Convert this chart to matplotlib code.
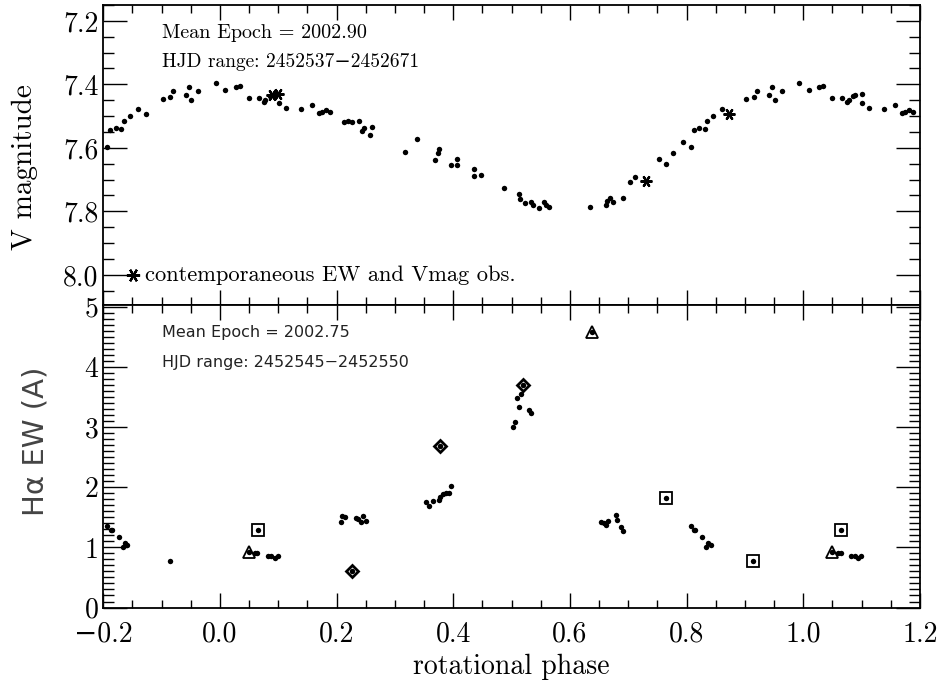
import matplotlib
matplotlib.use("Agg")
import matplotlib.pyplot as plt
from matplotlib.ticker import MultipleLocator, FuncFormatter

# V photometry, phase folded on [0, 1)
v_phase = [0.009, 0.027, 0.034, 0.050, 0.067, 0.075, 0.078, 0.086, 0.089, 0.100,
           0.101, 0.113, 0.139, 0.158, 0.170, 0.175, 0.182, 0.188, 0.213, 0.219,
           0.227, 0.238, 0.244, 0.247, 0.258, 0.260, 0.318, 0.337, 0.369, 0.373,
           0.376, 0.396, 0.406, 0.407, 0.435, 0.436, 0.447, 0.487, 0.512, 0.514,
           0.523, 0.534, 0.536, 0.547, 0.556, 0.559, 0.564, 0.634, 0.662, 0.663,
           0.668, 0.673, 0.691, 0.703, 0.711, 0.731, 0.753, 0.765, 0.776, 0.793,
           0.807, 0.812, 0.821, 0.831, 0.835, 0.846, 0.860, 0.873, 0.902, 0.915,
           0.920, 0.941, 0.947, 0.951, 0.963, 0.993]
v_mag = [7.418, 7.408, 7.405, 7.444, 7.444, 7.455, 7.448, 7.436, 7.432, 7.431,
         7.458, 7.475, 7.477, 7.464, 7.489, 7.488, 7.481, 7.486, 7.518, 7.514,
         7.520, 7.515, 7.546, 7.537, 7.558, 7.535, 7.612, 7.571, 7.639, 7.615,
         7.605, 7.655, 7.635, 7.653, 7.667, 7.689, 7.687, 7.726, 7.744, 7.760,
         7.775, 7.772, 7.780, 7.788, 7.772, 7.781, 7.786, 7.787, 7.781, 7.768,
         7.759, 7.769, 7.757, 7.709, 7.693, 7.704, 7.635, 7.650, 7.616, 7.583,
         7.598, 7.545, 7.537, 7.540, 7.514, 7.500, 7.476, 7.492, 7.446, 7.441,
         7.422, 7.433, 7.407, 7.449, 7.422, 7.397]

# contemporaneous EW and Vmag observations
star_phase = [0.089, 0.100, 0.731, 0.873]
star_mag = [7.432, 7.431, 7.704, 7.492]

# H-alpha equivalent widths
ew_phase = [0.050, 0.060, 0.064, 0.065, 0.082, 0.088, 0.094, 0.099,
            0.207, 0.210, 0.214, 0.226, 0.233, 0.237, 0.242, 0.246, 0.250,
            0.354, 0.359, 0.365, 0.376, 0.377, 0.378, 0.383, 0.387, 0.393, 0.396,
            0.502, 0.505, 0.509, 0.513, 0.516, 0.519, 0.529, 0.533, 0.637,
            0.653, 0.659, 0.662, 0.666, 0.679, 0.681, 0.687, 0.691, 0.764,
            0.807, 0.813, 0.815, 0.827, 0.834, 0.837, 0.841, 0.914]
ew_val = [0.917, 0.906, 0.911, 1.289, 0.850, 0.850, 0.817, 0.861,
          1.428, 1.517, 1.511, 0.611, 1.489, 1.472, 1.417, 1.528, 1.444,
          1.761, 1.683, 1.778, 1.794, 2.694, 1.833, 1.889, 1.900, 1.900, 2.017,
          3.000, 3.078, 3.483, 3.333, 3.544, 3.694, 3.278, 3.239, 4.583,
          1.422, 1.400, 1.378, 1.444, 1.544, 1.461, 1.333, 1.278, 1.828,
          1.350, 1.289, 1.289, 1.172, 1.011, 1.067, 1.044, 0.778]

sq_phase = [0.065, 0.764, 0.914]
sq_val = [1.289, 1.828, 0.778]
dia_phase = [0.226, 0.377, 0.519]
dia_val = [0.611, 2.694, 3.694]
tri_phase = [0.050, 0.637]
tri_val = [0.917, 4.583]

x_ticks = [-0.2, 0.0, 0.2, 0.4, 0.6, 0.8, 1.0, 1.2]

SERIF = ["cmr10", "DejaVu Serif"]
SANS = ["DejaVu Sans"]


def wrap(phase, values, shifts, lo=-0.2, hi=1.2):
    xs, ys = [], []
    for s in shifts:
        for p, v in zip(phase, values):
            if lo <= p + s <= hi:
                xs.append(p + s)
                ys.append(v)
    return xs, ys


def style_axis(ax, ymajor, yminor):
    ax.xaxis.set_major_locator(MultipleLocator(0.2))
    ax.xaxis.set_minor_locator(MultipleLocator(0.05))
    ax.yaxis.set_major_locator(MultipleLocator(ymajor))
    ax.yaxis.set_minor_locator(MultipleLocator(yminor))
    ax.tick_params(which="both", direction="in", top=True, right=True, width=1.0)
    ax.tick_params(axis="y", which="major", length=17)
    ax.tick_params(axis="y", which="minor", length=8)
    ax.tick_params(axis="x", which="major", length=11)
    ax.tick_params(axis="x", which="minor", length=6)
    for sp in ax.spines.values():
        sp.set_linewidth(1.3)


def fmt(v, pos):
    return f"{v:.1f}".replace("-", "\u2212")


fig = plt.figure(figsize=(9.4, 6.85), dpi=100)
ax1 = fig.add_axes([0.1099, 0.5547, 0.8688, 0.4380])
ax2 = fig.add_axes([0.1099, 0.1131, 0.8688, 0.4416])

# top panel: V light curve
x, y = wrap(v_phase, v_mag, (-1, 0, 1))
ax1.plot(x, y, "o", color="black", ms=3.9, mew=0)
ax1.plot(star_phase, star_mag, ls="none", marker=(6, 2, 90), color="black",
         ms=8.5, mew=1.6)
ax1.plot([-0.149], [8.0], ls="none", marker=(6, 2, 90), color="black", ms=9.5, mew=1.6)
ax1.text(-0.129, 8.0, "contemporaneous EW and Vmag obs.", family=SERIF,
         fontsize=16.2, va="center", ha="left")
ax1.text(-0.1, 7.238, "Mean Epoch = 2002.90", family=SERIF, fontsize=14.5, va="center")
ax1.text(-0.1, 7.329, "HJD range: 2452537\u22122452671", family=SERIF, fontsize=14,
         va="center")
ax1.set_xlim(-0.2, 1.2)
ax1.set_ylim(8.095, 7.15)
style_axis(ax1, 0.2, 0.05)
ax1.set_xticks(x_ticks)
ax1.tick_params(axis="x", labelbottom=False)
ax1.set_yticks([7.2, 7.4, 7.6, 7.8, 8.0])
ax1.yaxis.set_major_formatter(FuncFormatter(fmt))
for lab in ax1.get_yticklabels():
    lab.set_family(SERIF)
    lab.set_fontsize(20)
ax1.set_ylabel("V magnitude", family=SERIF, fontsize=21)
ax1.yaxis.set_label_coords(-0.080, 0.46)

# bottom panel: H-alpha EW
ax2.plot(sq_phase + [p + 1 for p in sq_phase if p + 1 <= 1.2],
         sq_val + [v for p, v in zip(sq_phase, sq_val) if p + 1 <= 1.2],
         "s", mfc="none", mec="black", ms=8, mew=1.3)
ax2.plot(dia_phase + [p + 1 for p in dia_phase if p + 1 <= 1.2],
         dia_val + [v for p, v in zip(dia_phase, dia_val) if p + 1 <= 1.2],
         "D", mfc="none", mec="black", ms=6.5, mew=2.0)
ax2.plot(tri_phase + [p + 1 for p in tri_phase if p + 1 <= 1.2],
         tri_val + [v for p, v in zip(tri_phase, tri_val) if p + 1 <= 1.2],
         "^", mfc="none", mec="black", ms=8.5, mew=1.3)
x, y = wrap(ew_phase, ew_val, (-1, 0, 1))
ax2.plot(x, y, "o", color="black", ms=3.9, mew=0)
ax2.text(-0.1, 4.58, "Mean Epoch = 2002.75", family=SANS, fontsize=11.5,
         va="center", color="#222222")
ax2.text(-0.1, 4.08, "HJD range: 2452545\u22122452550", family=SANS, fontsize=11.5,
         va="center", color="#222222")
ax2.set_xlim(-0.2, 1.2)
ax2.set_ylim(0, 5.03)
style_axis(ax2, 1, 0.1)
ax2.set_xticks(x_ticks)
ax2.xaxis.set_major_formatter(FuncFormatter(fmt))
ax2.set_yticks([0, 1, 2, 3, 4, 5])
for lab in ax2.get_xticklabels():
    lab.set_family(SERIF)
    lab.set_fontsize(20)
for lab in ax2.get_yticklabels():
    lab.set_family(SERIF)
    lab.set_fontsize(20)
ax2.tick_params(axis="x", pad=10)
ax2.set_ylabel("H\u03b1 EW (A)", family=SANS, fontsize=21, color="#444444")
ax2.yaxis.set_label_coords(-0.066, 0.55)
ax2.set_xlabel("rotational phase", family=SERIF, fontsize=20, labelpad=4)

fig.savefig("out.png", dpi=100)
